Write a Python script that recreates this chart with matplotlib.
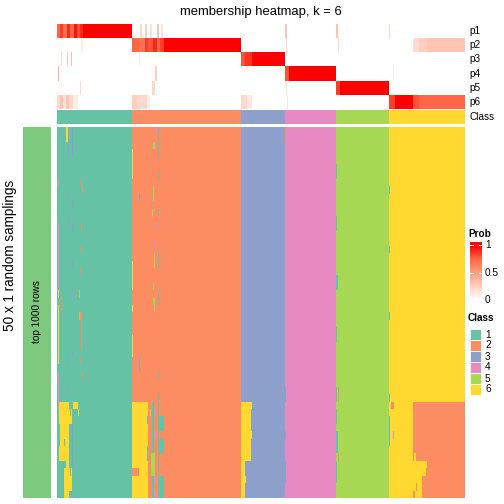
import matplotlib
matplotlib.use("Agg")
import matplotlib.pyplot as plt
import numpy as np
from matplotlib.colors import ListedColormap, LinearSegmentedColormap
from matplotlib.patches import Rectangle

plt.rcParams['font.family'] = ['Liberation Sans', 'DejaVu Sans']

W, H = 504, 504

#region data
class_ids = [1, 2, 3, 4, 5, 6]
class_sizes = [75, 109, 44, 51, 53, 76]
class_colors = ['#66C2A5', '#FC8D62', '#8DA0CB', '#E78AC3', '#A6D854', '#FFD92F']
prob_rows = ['p1', 'p2', 'p3', 'p4', 'p5', 'p6']
n_samplings = 50

# membership segments per row: (first column, last column + 1, probability)
p1_segments = [(0, 3, 0.75), (3, 6, 0.85), (6, 10, 0.7), (10, 13, 0.9), (13, 17, 0.75),
               (17, 20, 0.95), (20, 23, 0.8), (23, 26, 0.9), (26, 75, 1.0),
               (83, 85, 0.2), (88, 90, 0.25), (93, 95, 0.15), (100, 102, 0.3),
               (104, 106, 0.15), (228, 230, 0.3), (279, 281, 0.3), (332, 333, 0.2)]
p2_segments = [(24, 26, 0.1), (75, 82, 0.75), (82, 88, 0.7), (88, 91, 0.85), (91, 96, 0.8),
               (96, 100, 0.9), (100, 103, 0.75), (103, 107, 0.85), (107, 184, 1.0),
               (229, 230, 0.2), (281, 282, 0.2), (356, 362, 0.18), (362, 370, 0.25),
               (370, 408, 0.3)]
p3_segments = [(4, 5, 0.2), (10, 11, 0.3), (14, 15, 0.35), (82, 83, 0.1),
               (184, 188, 0.8), (188, 195, 0.88), (195, 228, 1.0)]
p4_segments = [(1, 2, 0.4), (98, 100, 0.25), (228, 232, 0.8), (232, 279, 1.0), (336, 337, 0.08)]
p5_segments = [(23, 24, 0.2), (95, 98, 0.2), (229, 230, 0.15), (279, 283, 0.85), (283, 332, 1.0)]
p6_segments = [(0, 3, 0.2), (3, 6, 0.3), (6, 9, 0.15), (9, 12, 0.3), (12, 16, 0.2),
               (16, 21, 0.1), (75, 80, 0.25), (80, 90, 0.2), (90, 93, 0.1),
               (184, 190, 0.2), (190, 195, 0.12), (230, 231, 0.15),
               (332, 338, 0.85), (338, 356, 1.0), (356, 362, 0.8), (362, 408, 0.75)]

# samplings that disagree with the consensus: (first row, last row + 1, first col, last col + 1, class)
upper_edits = [
    (0, 1, 3, 4, 3), (0, 2, 9, 11, 6), (0, 3, 11, 12, 3), (0, 3, 15, 16, 3),
    (3, 4, 11, 12, 3), (3, 4, 15, 16, 3), (7, 8, 1, 2, 4), (7, 8, 24, 25, 2),
    (8, 9, 25, 26, 2), (9, 10, 11, 12, 3), (10, 11, 15, 16, 3), (12, 13, 11, 12, 3),
    (13, 22, 1, 2, 4), (13, 14, 15, 16, 3), (13, 14, 24, 25, 2), (16, 17, 24, 25, 2),
    (18, 19, 15, 16, 3), (19, 20, 24, 25, 2), (22, 23, 1, 2, 6), (22, 23, 15, 16, 3),
    (22, 23, 22, 23, 5), (23, 25, 4, 5, 2), (24, 32, 1, 2, 6), (33, 38, 1, 2, 4),
    (25, 26, 22, 23, 5), (25, 26, 23, 25, 2), (26, 28, 24, 25, 2), (28, 30, 24, 25, 2),
    (30, 31, 15, 16, 3), (31, 32, 11, 12, 3), (31, 32, 24, 25, 2), (33, 34, 25, 26, 2),
    (35, 36, 11, 12, 3),
    (3, 7, 75, 76, 6), (0, 1, 98, 100, 4), (0, 3, 101, 102, 1), (2, 3, 96, 98, 5),
    (2, 3, 98, 99, 4), (3, 4, 101, 102, 1), (4, 5, 98, 99, 4), (6, 7, 101, 102, 1),
    (8, 10, 96, 97, 5), (9, 10, 82, 83, 3), (11, 12, 95, 96, 5), (11, 12, 101, 102, 1),
    (13, 14, 99, 100, 4), (15, 17, 98, 99, 4), (17, 19, 101, 102, 1), (17, 19, 97, 98, 5),
    (18, 22, 75, 76, 6), (21, 22, 96, 97, 5), (22, 24, 101, 102, 1), (23, 24, 96, 98, 5),
    (24, 25, 97, 98, 5), (24, 25, 75, 76, 6), (28, 31, 75, 76, 6), (31, 33, 82, 83, 3),
    (33, 34, 101, 102, 1), (36, 37, 101, 102, 1),
    (0, 2, 228, 229, 2), (5, 7, 279, 280, 1), (12, 14, 279, 280, 1), (20, 22, 279, 281, 1),
    (27, 29, 279, 280, 1), (8, 9, 332, 333, 1), (16, 17, 332, 333, 1), (25, 26, 332, 333, 1),
    (35, 37, 228, 229, 3), (35, 37, 279, 280, 1), (35, 37, 281, 282, 2), (36, 37, 332, 333, 1),
]
lower_edits = [
    # class 1 samples switching to class 6
    (37, 38, 2, 12, 6), (37, 38, 16, 21, 6), (38, 39, 2, 13, 6), (38, 39, 14, 15, 6),
    (38, 39, 21, 22, 6), (39, 40, 2, 15, 6), (40, 42, 3, 12, 6), (42, 43, 3, 12, 6),
    (42, 43, 7, 8, 1), (43, 45, 2, 12, 6), (45, 46, 9, 12, 6), (46, 47, 7, 15, 6),
    (46, 47, 13, 14, 1), (47, 49, 7, 15, 6), (49, 50, 7, 12, 6), (49, 50, 14, 15, 3),
    (40, 46, 15, 16, 3),
    # class 2 samples switching to class 6
    (37, 46, 75, 91, 6), (46, 47, 82, 91, 6), (47, 50, 75, 91, 6),
    (39, 40, 90, 91, 1), (43, 45, 90, 91, 1), (38, 39, 93, 94, 6), (44, 47, 94, 98, 5),
    (37, 44, 95, 97, 1), (47, 50, 95, 97, 1), (38, 39, 97, 99, 4), (41, 42, 97, 99, 4),
    (47, 48, 97, 99, 4), (49, 50, 97, 99, 4), (37, 39, 101, 102, 1), (39, 41, 101, 107, 1),
    (41, 42, 101, 102, 1), (42, 44, 101, 107, 1), (44, 47, 101, 102, 1), (47, 50, 101, 107, 1),
    # class 3 samples switching to class 6
    (37, 38, 184, 195, 6), (38, 41, 184, 194, 6), (41, 42, 184, 195, 6), (42, 45, 184, 194, 6),
    (45, 47, 184, 188, 6), (47, 48, 184, 189, 6), (48, 50, 184, 188, 6),
    (41, 42, 228, 229, 3), (45, 48, 228, 229, 3),
    # class 5 edge
    (38, 40, 279, 280, 1), (41, 44, 279, 281, 1), (44, 45, 281, 282, 2), (45, 48, 279, 280, 1),
    # class 6 samples switching to class 2
    (37, 44, 356, 408, 2), (44, 45, 356, 357, 2), (44, 45, 359, 408, 2), (45, 46, 370, 408, 2),
    (46, 47, 369, 408, 2), (47, 50, 365, 408, 2), (48, 49, 359, 360, 2), (49, 50, 356, 358, 2),
    (37, 38, 334, 337, 2), (39, 41, 332, 333, 1), (41, 43, 332, 333, 1), (41, 42, 336, 337, 4),
]

prob_ticks = [0, 0.5, 1]
prob_tick_labels = ['0', '0.5', '1']
#endregion

#region helpers
def px_axes(fig, x0, y0, x1, y1):
    ax = fig.add_axes([x0 / W, 1 - y1 / H, (x1 - x0) / W, (y1 - y0) / H])
    ax.set_axis_off()
    return ax

def fx(x):
    return x / W

def fy(y):
    return 1 - y / H

def consensus_classes():
    return np.repeat(class_ids, class_sizes)

def build_membership():
    n = sum(class_sizes)
    mat = np.zeros((len(prob_rows), n))
    for i, segs in enumerate([p1_segments, p2_segments, p3_segments,
                              p4_segments, p5_segments, p6_segments]):
        for c0, c1, p in segs:
            mat[i, c0:c1] = p
    return mat

def build_samplings():
    base = consensus_classes()
    mat = np.tile(base, (n_samplings, 1))
    for r0, r1, c0, c1, k in upper_edits + lower_edits:
        mat[r0:r1, c0:c1] = k
    return mat
#endregion

#region plotting
prob_cmap = LinearSegmentedColormap.from_list(
    'prob', ['#FFFFFF', '#FFCFBF', '#FF9E81', '#FF6846', '#FF0000'])
class_cmap = ListedColormap(class_colors)

def plot():
    fig = plt.figure(figsize=(W / 72, H / 72), dpi=72)
    n = sum(class_sizes)

    membership = build_membership()
    ax = px_axes(fig, 57, 24, 465, 109)
    ax.imshow(membership, cmap=prob_cmap, vmin=0, vmax=1, aspect='auto',
              interpolation='nearest', extent=(0, n, len(prob_rows), 0))
    row_h = (109 - 24) / len(prob_rows)
    for i, name in enumerate(prob_rows):
        fig.text(fx(469), fy(24 + row_h * (i + 0.5)), name, fontsize=10, va='center', ha='left')

    ax = px_axes(fig, 57, 110, 465, 124)
    ax.imshow(consensus_classes()[None, :] - 1, cmap=class_cmap, vmin=-0.5, vmax=5.5,
              aspect='auto', interpolation='nearest', extent=(0, n, 1, 0))
    fig.text(fx(469), fy(117), 'Class', fontsize=10, va='center', ha='left')

    ax = px_axes(fig, 57, 127, 465, 498)
    ax.imshow(build_samplings() - 1, cmap=class_cmap, vmin=-0.5, vmax=5.5,
              aspect='auto', interpolation='nearest', extent=(0, n, n_samplings, 0))

    ax = px_axes(fig, 23, 127, 51, 498)
    ax.add_patch(Rectangle((0, 0), 1, 1, color='#7FC97F', transform=ax.transAxes))
    fig.text(fx(37.5), fy(312), 'top 1000 rows', fontsize=10, rotation=90, va='center', ha='center')
    fig.text(fx(10), fy(255), '50 x 1 random samplings', fontsize=13.5, rotation=90,
             va='center', ha='center')

    fig.text(fx(261), fy(12), 'membership heatmap, k = 6', fontsize=13, va='center', ha='center')

    # probability colour bar
    fig.text(fx(468), fy(234), 'Prob', fontsize=10, fontweight='bold', va='center', ha='left')
    ax = px_axes(fig, 470, 242, 482, 300)
    grad = np.linspace(1.06, 0, 120)[:, None]
    ax.imshow(grad, cmap=prob_cmap, vmin=0, vmax=1, aspect='auto', extent=(0, 1, 0, 1.06))
    ax.set_xlim(0, 1)
    ax.set_ylim(0, 1.06)
    for v, lab in zip(prob_ticks, prob_tick_labels):
        if v > 0:
            ax.plot([0, 0.22], [v, v], color='white', lw=1)
            ax.plot([0.78, 1], [v, v], color='white', lw=1)
        fig.text(fx(485), fy(300 - v * 54.5), lab, fontsize=10, va='center', ha='left')

    # class legend
    fig.text(fx(468), fy(318), 'Class', fontsize=10, fontweight='bold', va='center', ha='left')
    box_h = 11
    for i, (k, col) in enumerate(zip(class_ids, class_colors)):
        y0 = 329 + i * box_h
        fig.patches.append(Rectangle((fx(470), fy(y0 + box_h)), 11 / W, box_h / H,
                                     facecolor=col, edgecolor='white', lw=0.8,
                                     transform=fig.transFigure, figure=fig))
        fig.text(fx(485), fy(y0 + box_h / 2), str(k), fontsize=10, va='center', ha='left')

    fig.savefig('out.png', dpi=72)
#endregion

if __name__ == '__main__':
    plot()
